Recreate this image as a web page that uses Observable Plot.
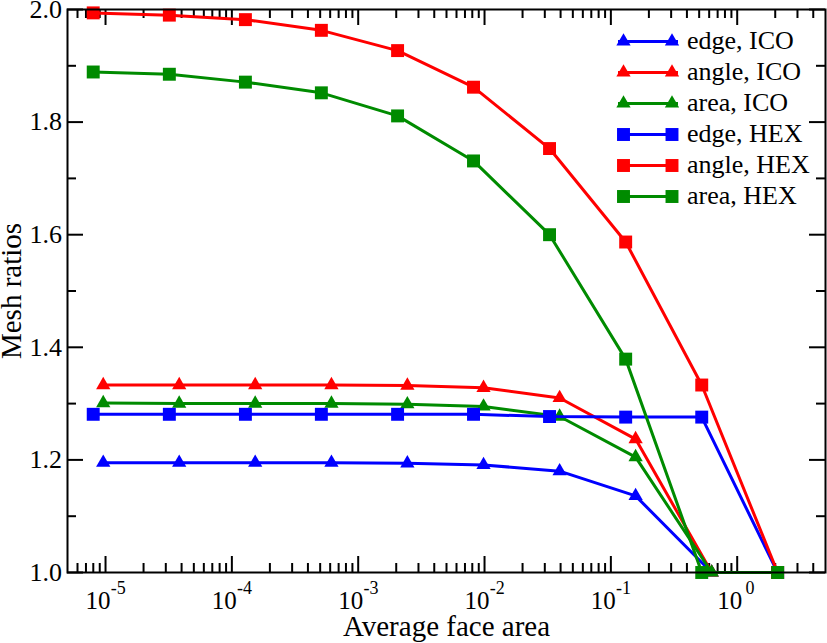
<!DOCTYPE html>
<html><head><meta charset="utf-8">
<script src="https://cdn.jsdelivr.net/npm/d3@7"></script>
<script src="https://cdn.jsdelivr.net/npm/@observablehq/plot@0.6"></script>
<style>body{margin:0;background:#fff} #chart{width:827px;height:643px}</style>
</head><body><div id="chart"></div>
<script>
// ---- data ----
const icoArea = [9.59e-6, 3.83e-5, 1.53e-4, 6.14e-4, 2.45e-3, 9.82e-3, 3.93e-2, 0.157, 0.628];
const hexArea = [7.99e-6, 3.20e-5, 1.28e-4, 5.11e-4, 2.05e-3, 8.18e-3, 3.27e-2, 0.131, 0.524, 2.09];
const edgeICO  = [1.195, 1.195, 1.195, 1.195, 1.194, 1.191, 1.180, 1.136, 1.000];
const angleICO = [1.333, 1.333, 1.333, 1.333, 1.332, 1.328, 1.310, 1.237, 1.000];
const areaICO  = [1.301, 1.300, 1.300, 1.300, 1.299, 1.295, 1.277, 1.205, 1.000];
const edgeHEX  = [1.281, 1.281, 1.281, 1.281, 1.281, 1.281, 1.277, 1.276, 1.276, 1.000];
const angleHEX = [1.994, 1.990, 1.982, 1.963, 1.927, 1.862, 1.753, 1.587, 1.333, 1.000];
const areaHEX  = [1.889, 1.885, 1.871, 1.852, 1.811, 1.731, 1.600, 1.379, 1.000, 1.000];
const seriesNames = ["edge, ICO", "angle, ICO", "area, ICO", "edge, HEX", "angle, HEX", "area, HEX"];
const xTickValues = [1e-5, 1e-4, 1e-3, 1e-2, 1e-1, 1];
const xTickExponents = ["-5", "-4", "-3", "-2", "-1", "0"];
const yTickValues = [1.0, 1.2, 1.4, 1.6, 1.8, 2.0];
const yTickLabels = ["1.0", "1.2", "1.4", "1.6", "1.8", "2.0"];
const yMinorValues = [1.1, 1.3, 1.5, 1.7, 1.9];
const xTitle = "Average face area";
const yTitle = "Mesh ratios";

// ---- styling ----
const BLUE = "#0000ff", RED = "#ff0000", GREEN = "#008b00";
const series = [
  {name: seriesNames[0], xs: icoArea, ys: edgeICO,  color: BLUE,  symbol: "triangle"},
  {name: seriesNames[1], xs: icoArea, ys: angleICO, color: RED,   symbol: "triangle"},
  {name: seriesNames[2], xs: icoArea, ys: areaICO,  color: GREEN, symbol: "triangle"},
  {name: seriesNames[3], xs: hexArea, ys: edgeHEX,  color: BLUE,  symbol: "square"},
  {name: seriesNames[4], xs: hexArea, ys: angleHEX, color: RED,   symbol: "square"},
  {name: seriesNames[5], xs: hexArea, ys: areaHEX,  color: GREEN, symbol: "square"}
];
const W = 827, H = 643, mL = 67, mR = 2, mT = 9, mB = 71;
const innerW = W - mL - mR, innerH = H - mT - mB;
const xDomain = [5e-6, 5];
const xMinor = d3.scaleLog().domain(xDomain).ticks()
  .filter(v => v > xDomain[0] * 1.01 && v < xDomain[1] * 0.99 && !xTickValues.some(t => Math.abs(v / t - 1) < 1e-6));

const FONT = "'Liberation Serif', 'Times New Roman', Times, serif";
const marks = [];
// ticks (inward, on all four sides)
const MAJ = 16, MIN = 9;
marks.push(Plot.tickX(xTickValues, {x: d => d, insetTop: innerH - MAJ, strokeWidth: 2}));
marks.push(Plot.tickX(xTickValues, {x: d => d, insetBottom: innerH - MAJ, strokeWidth: 2}));
marks.push(Plot.tickX(xMinor, {x: d => d, insetTop: innerH - MIN, strokeWidth: 2}));
marks.push(Plot.tickX(xMinor, {x: d => d, insetBottom: innerH - MIN, strokeWidth: 2}));
marks.push(Plot.tickY(yTickValues, {y: d => d, insetRight: innerW - MAJ, strokeWidth: 2}));
marks.push(Plot.tickY(yTickValues, {y: d => d, insetLeft: innerW - MAJ, strokeWidth: 2}));
marks.push(Plot.tickY(yMinorValues, {y: d => d, insetRight: innerW - MIN, strokeWidth: 2}));
marks.push(Plot.tickY(yMinorValues, {y: d => d, insetLeft: innerW - MIN, strokeWidth: 2}));

// series
for (const s of series) {
  const rows = s.xs.map((x, i) => ({x, y: s.ys[i]}));
  marks.push(Plot.line(rows, {x: "x", y: "y", stroke: s.color, strokeWidth: 3}));
  marks.push(Plot.dot(rows, {x: "x", y: "y", fill: s.color, stroke: "none",
    symbol: s.symbol, r: s.symbol === "square" ? 7.3 : 5.3}));
}

// frame
marks.push(Plot.frame({stroke: "black", strokeWidth: 2}));

// tick labels
marks.push(Plot.text(xTickValues, {x: d => d, frameAnchor: "bottom", text: () => "10",
  dy: 36.5, dx: -7.5, lineAnchor: "bottom", textAnchor: "middle", fontSize: 25}));
marks.push(Plot.text(xTickValues, {x: d => d, frameAnchor: "bottom", text: (d, i) => xTickExponents[i],
  dy: 21, dx: 12.7, lineAnchor: "bottom", textAnchor: "middle", fontSize: 18}));
marks.push(Plot.text(yTickValues, {y: d => d, frameAnchor: "left", text: (d, i) => yTickLabels[i],
  dx: -5.5, textAnchor: "end", lineAnchor: "middle", fontSize: 26}));
// axis titles
marks.push(Plot.text([xTitle], {frameAnchor: "bottom", text: d => d, dy: 63,
  lineAnchor: "bottom", textAnchor: "middle", fontSize: 29}));
marks.push(Plot.text([yTitle], {frameAnchor: "left", text: d => d, dx: -47, rotate: -90,
  lineAnchor: "bottom", textAnchor: "middle", fontSize: 29}));

const svg = Plot.plot({
  width: W, height: H,
  marginLeft: mL, marginRight: mR, marginTop: mT, marginBottom: mB,
  x: {type: "log", domain: xDomain, axis: null},
  y: {domain: [1, 2], axis: null},
  style: {fontFamily: FONT, background: "white", color: "black", overflow: "visible"},
  marks
});

// legend (inside the plot, top right)
const g = d3.select(svg).append("g").attr("class", "legend")
  .attr("font-family", FONT).attr("text-anchor", "start");
series.forEach((s, i) => {
  const cy = 41.5 + i * 31;
  g.append("line").attr("x1", 618).attr("x2", 678).attr("y1", cy).attr("y2", cy)
    .attr("stroke", s.color).attr("stroke-width", 3);
  const sym = s.symbol === "square" ? d3.symbolSquare : d3.symbolTriangle;
  const size = Math.PI * Math.pow(s.symbol === "square" ? 7.3 : 5.3, 2);
  for (const cx of [623.5, 672]) {
    g.append("path").attr("d", d3.symbol(sym, size)()).attr("transform", `translate(${cx},${cy})`)
      .attr("fill", s.color);
  }
  g.append("text").attr("x", 687).attr("y", cy).attr("dy", "0.27em")
    .attr("font-size", 26).attr("fill", "black").attr("text-anchor", "start").text(s.name);
});

document.getElementById("chart").appendChild(svg);
</script>
</body></html>
